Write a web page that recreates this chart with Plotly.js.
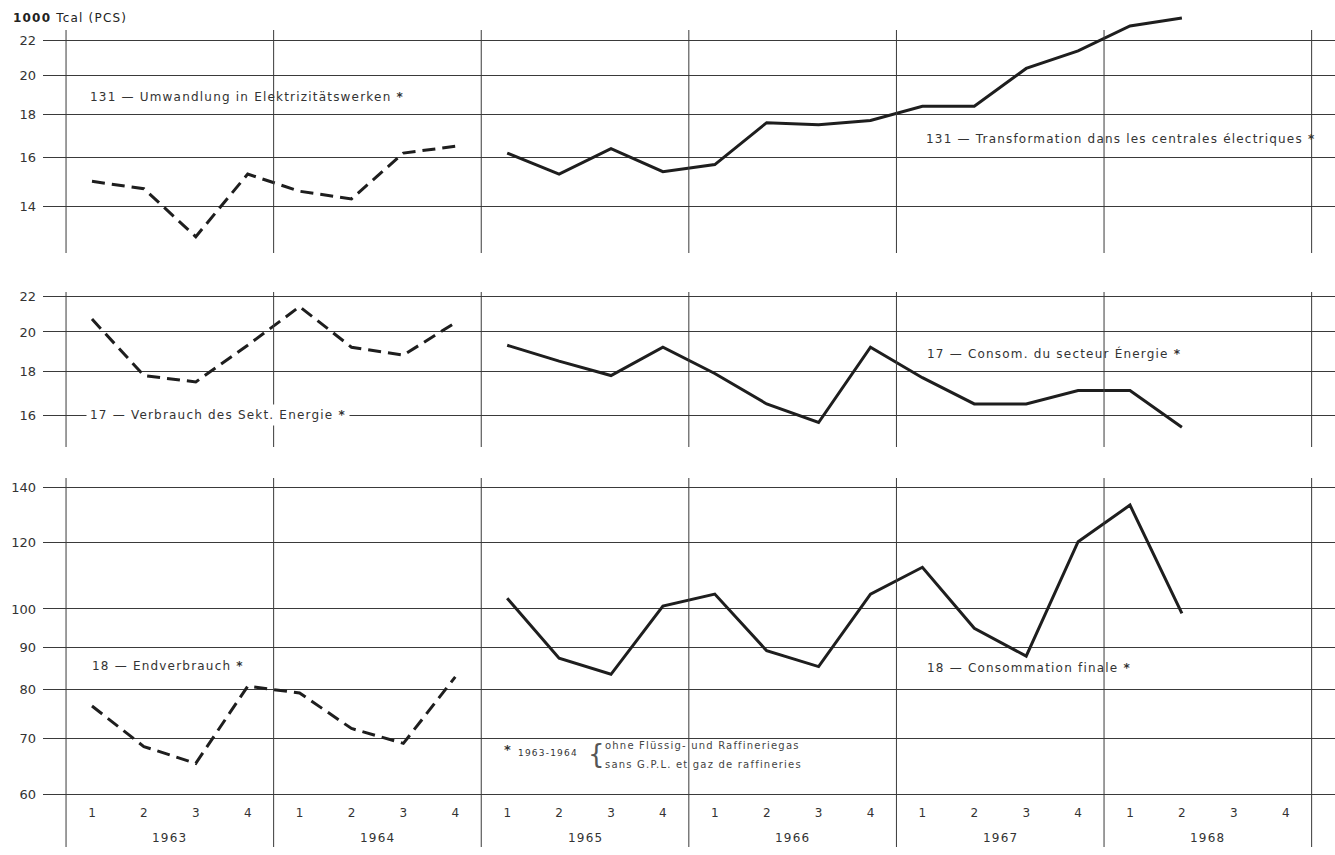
<!DOCTYPE html>
<html><head><meta charset="utf-8">
<script src="https://cdn.plot.ly/plotly-3.0.1.min.js"></script>
<style>
html,body{margin:0;padding:0;background:#fff}
#chart{width:1335px;height:855px}
.annotation-text{letter-spacing:1.2px}
</style>
</head><body><div id="chart"></div>
<script>
// ---- data (1000 Tcal PCS, quarterly) ----
const years = ['1963','1964','1965','1966','1967','1968'];
const quarterLabels = ['1','2','3','4'];
// 131 - Umwandlung in Elektrizitätswerken / Transformation dans les centrales électriques
const transfoDE = [15.0, 14.7, 12.9, 15.3, 14.6, 14.3, 16.2, 16.5];
const transfoFR = [16.2, 15.3, 16.4, 15.4, 15.7, 17.6, 17.5, 17.7, 18.4, 18.4, 20.4, 21.4, 22.9, 23.4];
// 17 - Verbrauch des Sekt. Energie / Consom. du secteur Énergie
const energyDE = [20.7, 17.8, 17.5, 19.3, 21.4, 19.2, 18.8, 20.5];
const energyFR = [19.3, 18.5, 17.8, 19.2, 17.9, 16.5, 15.7, 19.2, 17.7, 16.5, 16.5, 17.1, 17.1, 15.5];
// 18 - Endverbrauch / Consommation finale
const finalDE = [76.5, 68.4, 65.3, 80.8, 79.3, 71.9, 69.0, 82.9];
const finalFR = [103.0, 87.3, 83.5, 100.8, 104.2, 89.1, 85.3, 104.2, 112.2, 94.8, 87.8, 120.4, 133.2, 98.8];
const ticksTop = [14, 16, 18, 20, 22];
const ticksMid = [16, 18, 20, 22];
const ticksBot = [60, 70, 80, 90, 100, 120, 140];

// ---- derived ----
const periods = years.flatMap(y => quarterLabels.map(q => y + '-' + q));
const periodText = years.flatMap(() => quarterLabels);
const nDE = transfoDE.length;
const xDE = periods.slice(0, nDE);
const xFR = n => periods.slice(nDE, nDE + n);

const W = 1335, H = 855, L = 43;
const py = px => 1 - px / H;
const pxX = px => (px - L) / (W - L);
const FONT = 'DejaVu Sans, Arial, sans-serif';
const INK = '#1e1e1e';
const dashed = {color: INK, width: 3, dash: '13px,7px'};
const solid = {color: INK, width: 3};

const traces = [
  {x: xDE, y: transfoDE, yaxis: 'y', line: dashed},
  {x: xFR(transfoFR.length), y: transfoFR, yaxis: 'y', line: solid},
  {x: xDE, y: energyDE, yaxis: 'y2', line: dashed},
  {x: xFR(energyFR.length), y: energyFR, yaxis: 'y2', line: solid},
  {x: xDE, y: finalDE, yaxis: 'y3', line: dashed},
  {x: xFR(finalFR.length), y: finalFR, yaxis: 'y3', line: solid}
].map(t => Object.assign({type: 'scatter', mode: 'lines', xaxis: 'x', hoverinfo: 'skip', cliponaxis: false}, t));

const yBase = {
  type: 'log', anchor: 'x', showgrid: true, gridcolor: '#3a3a3a', gridwidth: 1,
  zeroline: false, showline: false, ticks: '', ticklabelstandoff: 6, automargin: false,
  tickfont: {family: FONT, size: 13, color: '#333'}
};

// year boundary lines, panel by panel
const bounds = years.map((_, i) => 4 * i - 0.5).concat([4 * years.length - 0.5]);
const panels = [[253, 30], [447, 292], [847, 478]];
const shapes = [];
panels.forEach(([b, t]) => bounds.forEach(xb => shapes.push({
  type: 'line', xref: 'x', yref: 'paper', x0: xb, x1: xb, y0: py(b), y1: py(t),
  line: {color: '#3a3a3a', width: 1}
})));

const lab = (text, xpx, ypx, extra) => Object.assign({
  text, xref: 'paper', yref: 'paper', x: pxX(xpx), y: py(ypx), xanchor: 'left', yanchor: 'middle',
  showarrow: false, font: {family: FONT, size: 12, color: '#333'}
}, extra || {});

const annotations = [
  lab('<b>1000</b> Tcal (PCS)', 11, 18, {font: {family: FONT, size: 12, color: '#222'}}),
  lab('131 — Umwandlung in Elektrizitätswerken <b>*</b>', 88, 97),
  lab('131 — Transformation dans les centrales électriques <b>*</b>', 924, 139),
  lab('17 — Verbrauch des Sekt. Energie <b>*</b>', 86, 415, {bgcolor: '#fff', borderpad: 3}),
  lab('17 — Consom. du secteur Énergie <b>*</b>', 925, 353),
  lab('18 — Endverbrauch <b>*</b>', 90, 666),
  lab('18 — Consommation finale <b>*</b>', 925, 668),
  lab('<b>*</b>', 502, 749, {font: {family: FONT, size: 13, color: '#333'}}),
  lab('1963-1964', 516, 753, {font: {family: FONT, size: 9, color: '#333'}}),
  lab('{', 586, 754, {font: {family: FONT, size: 26, color: '#555'}}),
  lab('ohne Flüssig- und Raffineriegas', 603, 745, {font: {family: FONT, size: 10, color: '#444'}}),
  lab('sans G.P.L. et gaz de raffineries', 603, 764, {font: {family: FONT, size: 10, color: '#444'}})
].concat(years.map((yr, i) => ({
  text: yr, xref: 'x', yref: 'paper', x: 4 * i + 1.5, y: py(838), showarrow: false,
  xanchor: 'center', yanchor: 'middle', font: {family: FONT, size: 12, color: '#333'}
})));

const layout = {
  width: W, height: H, margin: {l: L, r: 0, t: 0, b: 0},
  paper_bgcolor: '#fff', plot_bgcolor: '#fff', showlegend: false,
  xaxis: {
    type: 'category', categoryorder: 'array', categoryarray: periods,
    range: [-0.944, 23.95], domain: [0, 1], anchor: 'y3',
    showgrid: false, zeroline: false, showline: false, ticks: '',
    tickmode: 'array', tickvals: periods, ticktext: periodText,
    ticklabelstandoff: 4, automargin: false,
    tickfont: {family: FONT, size: 12, color: '#333'}
  },
  yaxis: Object.assign({}, yBase, {domain: [py(253), py(5)], range: [1.0913, 1.3847], tickvals: ticksTop}),
  yaxis2: Object.assign({}, yBase, {domain: [py(447), py(292)], range: [1.1675, 1.3474], tickvals: ticksMid}),
  yaxis3: Object.assign({}, yBase, {domain: [py(800), py(478)], range: [1.771, 2.157], tickvals: ticksBot}),
  shapes, annotations
};

Plotly.newPlot('chart', traces, layout, {displayModeBar: false, staticPlot: true});
</script></body></html>
